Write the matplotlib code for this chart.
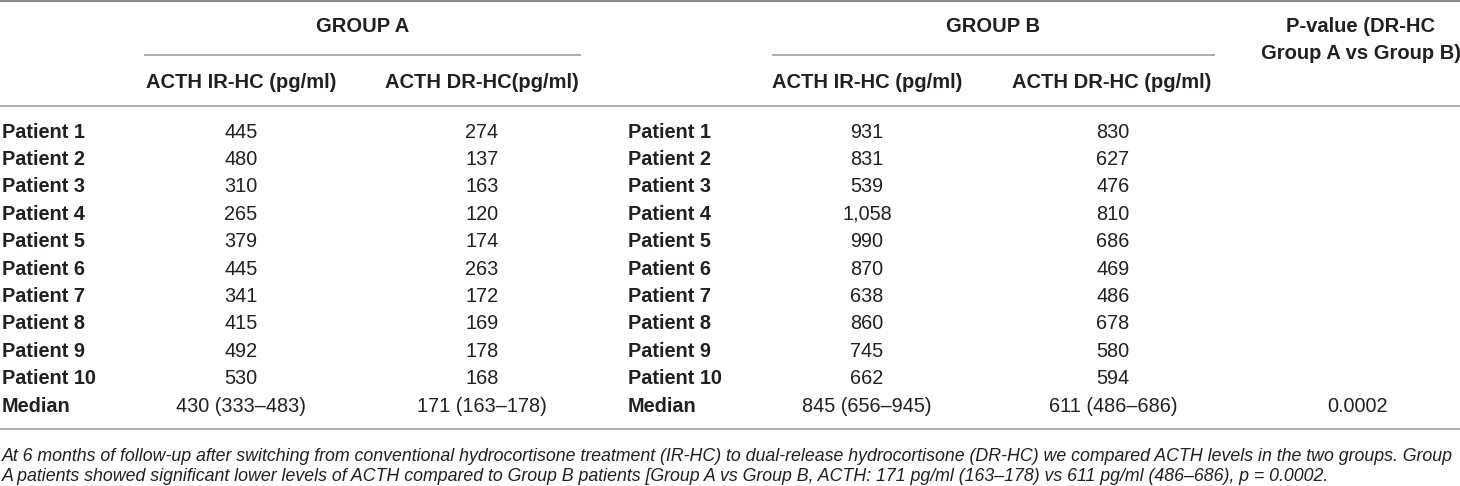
import matplotlib
matplotlib.use("Agg")
import matplotlib.pyplot as plt
from matplotlib import font_manager

# table content
patients = ["Patient 1", "Patient 2", "Patient 3", "Patient 4", "Patient 5",
            "Patient 6", "Patient 7", "Patient 8", "Patient 9", "Patient 10", "Median"]
a_ir = ["445", "480", "310", "265", "379", "445", "341", "415", "492", "530", "430 (333\u2013483)"]
a_dr = ["274", "137", "163", "120", "174", "263", "172", "169", "178", "168", "171 (163\u2013178)"]
b_ir = ["931", "831", "539", "1,058", "990", "870", "638", "860", "745", "662", "845 (656\u2013945)"]
b_dr = ["830", "627", "476", "810", "686", "469", "486", "678", "580", "594", "611 (486\u2013686)"]
p_val = ["", "", "", "", "", "", "", "", "", "", "0.0002"]

group_titles = ["GROUP A", "GROUP B"]
col_heads = ["ACTH IR-HC (pg/ml)", "ACTH DR-HC(pg/ml)", "ACTH IR-HC (pg/ml)", "ACTH DR-HC (pg/ml)"]
p_head = "P-value (DR-HC\nGroup A vs Group B)"
caption = ["At 6 months of follow-up after switching from conventional hydrocortisone treatment (IR-HC) "
           "to dual-release hydrocortisone (DR-HC) we compared ACTH levels in the two groups. Group",
           "A patients showed significant lower levels of ACTH compared to Group B patients [Group A vs "
           "Group B, ACTH: 171 pg/ml (163\u2013178) vs 611 pg/ml (486\u2013686), p = 0.0002."]

names = {f.name for f in font_manager.fontManager.ttflist}
base = "Liberation Sans" if "Liberation Sans" in names else "DejaVu Sans"
narrow = "Liberation Sans Narrow" if "Liberation Sans Narrow" in names else base

W, H = 1460, 486
fig = plt.figure(figsize=(W / 100, H / 100), dpi=100)
ax = fig.add_axes([0, 0, 1, 1])
ax.set_xlim(0, W)
ax.set_ylim(H, 0)
ax.axis("off")

ink = "#231f20"
rule = "#a0a0a0"

# rules
ax.hlines(1, 0, W, color="#8c8c8c", lw=1.6)
ax.hlines(55, 144, 581, color=rule, lw=1.2)
ax.hlines(55, 772, 1215, color=rule, lw=1.2)
ax.hlines(106, 0, W, color=rule, lw=1.2)
ax.hlines(429, 0, W, color=rule, lw=1.2)

# headers
hsize = 14.5
ax.text(363, 27, group_titles[0], ha="center", va="center", family=narrow, weight="bold", size=hsize, color=ink)
ax.text(993, 27, group_titles[1], ha="center", va="center", family=narrow, weight="bold", size=hsize, color=ink)
for x, t in zip([241, 482, 867, 1112], col_heads):
    ax.text(x, 82, t, ha="center", va="center", family=narrow, weight="bold", size=hsize, color=ink)
ax.text(1361, 40, p_head, ha="center", va="center", family=narrow, weight="bold", size=hsize,
        color=ink, linespacing=1.55)

# body rows
y0, dy = 132, 27.4
bsize = 14.3
for i, lab in enumerate(patients):
    y = y0 + i * dy
    ax.text(2, y, lab, ha="left", va="center", family=base, weight="bold", size=bsize, color=ink)
    ax.text(628, y, lab, ha="left", va="center", family=base, weight="bold", size=bsize, color=ink)
    ax.text(241, y, a_ir[i], ha="center", va="center", family=base, size=bsize, color=ink)
    ax.text(482, y, a_dr[i], ha="center", va="center", family=base, size=bsize, color=ink)
    ax.text(867, y, b_ir[i], ha="center", va="center", family=base, size=bsize, color=ink)
    ax.text(1113, y, b_dr[i], ha="center", va="center", family=base, size=bsize, color=ink)
    ax.text(1358, y, p_val[i], ha="center", va="center", family=base, size=bsize, color=ink)

# caption, first line fitted to the full width
r = fig.canvas.get_renderer()
c1 = ax.text(2, 456, caption[0], ha="left", va="center", family=base, style="italic", size=12, color=ink)
c2 = ax.text(2, 476, caption[1], ha="left", va="center", family=base, style="italic", size=12, color=ink)
wd = c1.get_window_extent(r).width
fs = 12 * 1452 / wd
c1.set_fontsize(fs)
c2.set_fontsize(fs)

fig.savefig("out.png", dpi=100)
